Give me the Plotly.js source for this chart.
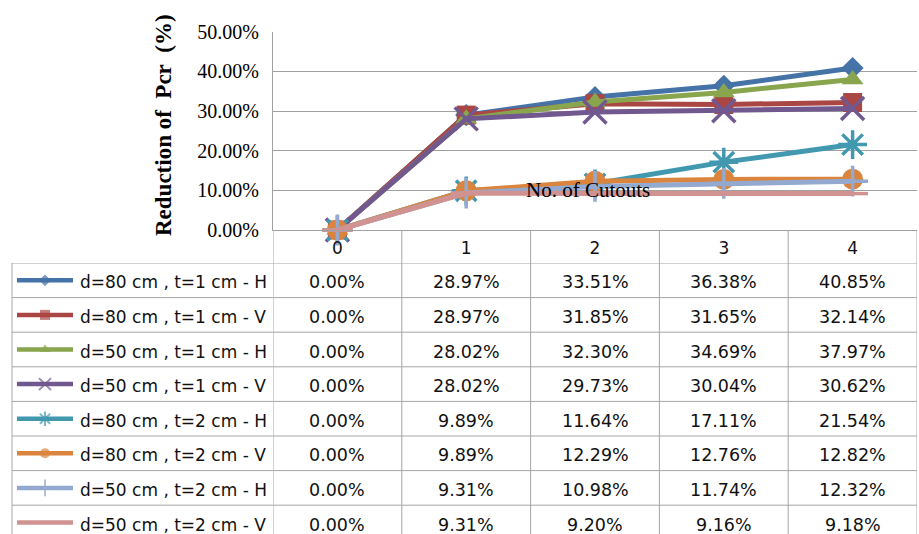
<!DOCTYPE html>
<html>
<head>
<meta charset="utf-8">
<script src="https://cdn.plot.ly/plotly-3.0.1.min.js"></script>
<style>html,body{margin:0;padding:0;background:#fff;}#chart{width:919px;height:534px;}</style>
</head>
<body>
<div id="chart"></div>
<script>
// ---- data ----
const categories = ['0', '1', '2', '3', '4'];
const seriesNames = [
  'd=80 cm , t=1 cm - H',
  'd=80 cm , t=1 cm - V',
  'd=50 cm , t=1 cm - H',
  'd=50 cm , t=1 cm - V',
  'd=80 cm , t=2 cm - H',
  'd=80 cm , t=2 cm - V',
  'd=50 cm , t=2 cm - H',
  'd=50 cm , t=2 cm - V'
];
const d80t1H = [0.00, 28.97, 33.51, 36.38, 40.85];
const d80t1V = [0.00, 28.97, 31.85, 31.65, 32.14];
const d50t1H = [0.00, 28.02, 32.30, 34.69, 37.97];
const d50t1V = [0.00, 28.02, 29.73, 30.04, 30.62];
const d80t2H = [0.00, 9.89, 11.64, 17.11, 21.54];
const d80t2V = [0.00, 9.89, 12.29, 12.76, 12.82];
const d50t2H = [0.00, 9.31, 10.98, 11.74, 12.32];
const d50t2V = [0.00, 9.31, 9.20, 9.16, 9.18];
const seriesValues = [d80t1H, d80t1V, d50t1H, d50t1V, d80t2H, d80t2V, d50t2H, d50t2V];
const yTickValues = [0, 10, 20, 30, 40, 50];
const yTickLabels = ['0.00%', '10.00%', '20.00%', '30.00%', '40.00%', '50.00%'];

// ---- styles ----
const colors = ['#4572A7', '#AA4643', '#89A54E', '#71588F', '#4198AF', '#DB843D', '#93A9CF', '#D19392'];
const symbols = ['diamond', 'square', 'triangle-up', 'x-thin-open', 'asterisk-open', 'circle', 'cross-thin-open', 'line-ew-open'];
const symSize = [17, 19, 19, 23, 24, 21, 22, 22];
const keySize = [9, 10, 10, 12, 12, 10, 12, 12];
const openSym = s => s.indexOf('open') >= 0;

const W = 919, H = 534;
const px = v => v / W;           // x pixel -> paper
const py = v => 1 - v / H;       // y pixel -> paper
const plotLeft = 273, plotRight = 917, plotTop = 31.7, plotBottom = 230;
const tableTop = 263, rowH = 34.6;
const nRows = seriesNames.length;
const gridColor = '#a0a0a0';
const tableColor = '#a6a6a6';
const sans = 'DejaVu Sans, Verdana, sans-serif';
const serif = 'Liberation Serif, Times New Roman, serif';

const traces = [];
seriesNames.forEach((name, i) => {
  traces.push({
    type: 'scatter', mode: 'lines+markers', name: name,
    x: categories, y: seriesValues[i],
    xaxis: 'x', yaxis: 'y',
    line: {color: colors[i], width: 5},
    marker: {symbol: symbols[i], size: symSize[i], color: colors[i],
             line: {color: colors[i], width: openSym(symbols[i]) ? 3.5 : 0}},
    cliponaxis: false, showlegend: false, hoverinfo: 'skip'
  });
});
// legend keys inside the data table
seriesNames.forEach((name, i) => {
  traces.push({
    type: 'scatter', mode: 'lines+markers',
    x: [0, 0.5, 1], y: [name, name, name],
    xaxis: 'x2', yaxis: 'y2',
    line: {color: colors[i], width: 4.5},
    marker: {symbol: symbols[i], size: [0, keySize[i], 0], color: colors[i],
             line: {color: colors[i], width: openSym(symbols[i]) ? 2 : 0}},
    cliponaxis: false, showlegend: false, hoverinfo: 'skip'
  });
});

const shapes = [];
const annotations = [];
// vertical table lines (column boundaries)
for (let k = 0; k <= categories.length; k++) {
  shapes.push({type: 'line', layer: 'below', xref: 'x', yref: 'paper',
    x0: k - 0.5, x1: k - 0.5, y0: 0, y1: py(plotBottom),
    line: {color: tableColor, width: 1}});
}
// left border of legend column
shapes.push({type: 'line', layer: 'below', xref: 'paper', yref: 'paper',
  x0: px(12), x1: px(12), y0: 0, y1: py(tableTop), line: {color: tableColor, width: 1}});
// horizontal row lines
for (let r = 0; r < nRows; r++) {
  shapes.push({type: 'line', layer: 'below', xref: 'paper', yref: 'y2',
    x0: px(12), x1: px(plotRight), y0: r - 0.5, y1: r - 0.5,
    line: {color: tableColor, width: 1}});
}
// cell values
seriesNames.forEach((name, i) => {
  annotations.push({xref: 'paper', yref: 'y2', x: px(78), y: name, text: name,
    xanchor: 'left', yanchor: 'middle', showarrow: false, yshift: -2,
    font: {family: sans, size: 17, color: '#111'}});
  categories.forEach((c, j) => {
    annotations.push({xref: 'x', yref: 'y2', x: c, y: name,
      text: seriesValues[i][j].toFixed(2) + '%', showarrow: false,
      xanchor: 'center', yanchor: 'middle', yshift: -2,
      font: {family: sans, size: 17.5, color: '#111'}});
  });
});
// axis titles
annotations.push({xref: 'paper', yref: 'paper', x: px(163), y: py(125),
  text: '<b>Reduction of\u00a0 Pcr\u00a0 (%)</b>', textangle: -90, showarrow: false,
  xanchor: 'center', yanchor: 'middle', font: {family: serif, size: 23, color: '#000'}});
annotations.push({xref: 'paper', yref: 'paper', x: px(588), y: py(190),
  text: 'No. of Cutouts', showarrow: false, xanchor: 'center', yanchor: 'middle',
  font: {family: serif, size: 21, color: '#000'}});

const layout = {
  width: W, height: H,
  margin: {l: 0, r: 0, t: 0, b: 0},
  paper_bgcolor: '#fff', plot_bgcolor: '#fff',
  showlegend: false,
  xaxis: {type: 'category', domain: [px(plotLeft), px(plotRight)], range: [-0.5, 4.5],
    showgrid: false, zeroline: false, showline: true, linecolor: gridColor, linewidth: 1,
    ticks: 'outside', ticklen: 3, tickcolor: 'rgba(0,0,0,0)',
    tickfont: {family: sans, size: 17, color: '#111'}, fixedrange: true},
  yaxis: {domain: [py(plotBottom), py(plotTop)], range: [0, 50],
    tickmode: 'array', tickvals: yTickValues, ticktext: yTickLabels,
    showgrid: true, gridcolor: gridColor, gridwidth: 1, zeroline: false,
    showline: true, linecolor: gridColor, linewidth: 1,
    ticks: 'outside', ticklen: 9, tickcolor: 'rgba(0,0,0,0)',
    tickfont: {family: serif, size: 20, color: '#000'}, fixedrange: true},
  xaxis2: {domain: [px(17), px(73)], range: [0, 1], visible: false, anchor: 'y2', fixedrange: true},
  yaxis2: {type: 'category', categoryorder: 'array', categoryarray: seriesNames,
    domain: [0, py(tableTop)], range: [-0.5 + (H - tableTop) / rowH, -0.5],
    visible: false, anchor: 'x2', fixedrange: true},
  shapes: shapes,
  annotations: annotations
};

Plotly.newPlot('chart', traces, layout, {displayModeBar: false, staticPlot: true});
</script>
</body>
</html>
